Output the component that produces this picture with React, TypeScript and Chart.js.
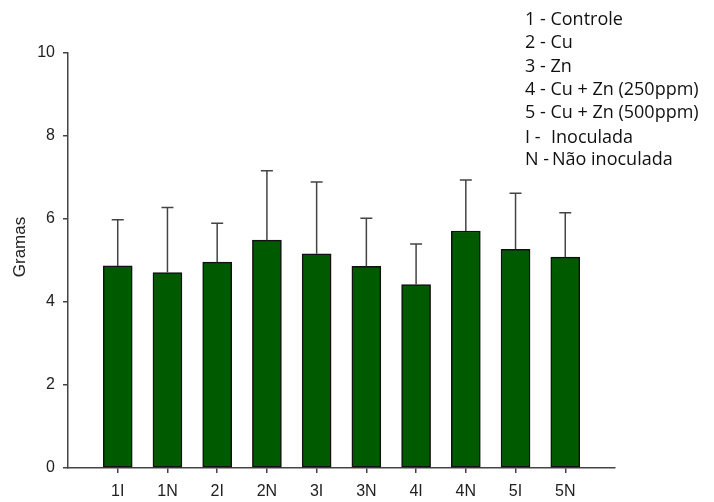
import React, { useEffect, useRef } from "react";
import { Chart, registerables } from "chart.js";

Chart.register(...registerables);

const categories = ["1I", "1N", "2I", "2N", "3I", "3N", "4I", "4N", "5I", "5N"];
const means = [4.87, 4.71, 4.96, 5.49, 5.16, 4.86, 4.42, 5.71, 5.27, 5.08];
const errors = [1.11, 1.57, 0.94, 1.67, 1.73, 1.16, 0.98, 1.23, 1.35, 1.07];
const yAxisTitle = "Gramas";
const legendLines: { parts: { text: string; dx: number }[] }[] = [
  { parts: [{ text: "1 - Controle", dx: 0 }] },
  { parts: [{ text: "2 - Cu", dx: 0 }] },
  { parts: [{ text: "3 - Zn", dx: 0 }] },
  { parts: [{ text: "4 - Cu + Zn (250ppm)", dx: 0 }] },
  { parts: [{ text: "5 - Cu + Zn (500ppm)", dx: 0 }] },
  { parts: [{ text: "I -", dx: 0 }, { text: "Inoculada", dx: 26 }] },
  { parts: [{ text: "N -", dx: 0 }, { text: "Não inoculada", dx: 27 }] },
];
const legendBaselines = [25, 48, 72, 95, 118, 143, 165];

const errorBarPlugin = {
  id: "errorBars",
  afterDatasetsDraw(chart: any) {
    const ctx = chart.ctx;
    const meta = chart.getDatasetMeta(0);
    const yScale = chart.scales.y;
    ctx.save();
    ctx.strokeStyle = "#444";
    ctx.lineWidth = 1.5;
    meta.data.forEach((bar: any, i: number) => {
      const x = bar.x;
      const top = bar.y;
      const yErr = yScale.getPixelForValue(means[i] + errors[i]);
      ctx.beginPath();
      ctx.moveTo(x, top);
      ctx.lineTo(x, yErr);
      ctx.moveTo(x - 6, yErr);
      ctx.lineTo(x + 6, yErr);
      ctx.stroke();
    });
    ctx.restore();
  },
};

const textPlugin = {
  id: "texts",
  afterDraw(chart: any) {
    const ctx = chart.ctx;
    ctx.save();
    ctx.fillStyle = "#111";
    ctx.font = '18px "Open Sans"';
    ctx.textAlign = "left";
    ctx.textBaseline = "alphabetic";
    legendLines.forEach((line, i) => {
      line.parts.forEach((p) => {
        ctx.fillText(p.text, 525 + p.dx, legendBaselines[i]);
      });
    });
    ctx.translate(20, 247);
    ctx.rotate(-Math.PI / 2);
    ctx.font = '17px "Liberation Sans", Arial, sans-serif';
    ctx.fillStyle = "#222";
    ctx.textAlign = "center";
    ctx.textBaseline = "middle";
    ctx.fillText(yAxisTitle, 0, 0);
    ctx.restore();
  },
};

export default function App() {
  const ref = useRef<HTMLCanvasElement>(null);
  useEffect(() => {
    if (!ref.current) return;
    const chart = new Chart(ref.current, {
      type: "bar",
      data: {
        datasets: [
          {
            data: categories.map((_, i) => ({ x: i + 1, y: means[i] })),
            backgroundColor: "#005a00",
            borderColor: "#111",
            borderWidth: 1.5,
            borderSkipped: false,
            barThickness: 29,
          },
        ],
      },
      options: {
        animation: false,
        responsive: false,
        layout: { padding: { left: 0, top: 53, right: 99, bottom: 0 } },
        plugins: { legend: { display: false }, tooltip: { enabled: false } },
        scales: {
          x: {
            type: "linear",
            min: 0,
            max: 11,
            offset: false,
            afterBuildTicks: (scale: any) => {
              scale.ticks = categories.map((_, i) => ({ value: i + 1 }));
            },
            afterFit: (scale: any) => {
              scale.height = 34;
            },
            grid: {
              display: true,
              offset: false,
              drawOnChartArea: false,
              drawTicks: true,
              tickLength: 5,
              color: "#444",
              lineWidth: 1.5,
            },
            border: { display: true, color: "#444", width: 1.5 },
            ticks: {
              autoSkip: false,
              maxRotation: 0,
              padding: 9,
              color: "#222",
              font: { family: '"Liberation Sans", Arial, sans-serif', size: 16 },
              callback: (value: any) => categories[Number(value) - 1] ?? "",
            },
          },
          y: {
            min: 0,
            max: 10,
            afterFit: (scale: any) => {
              scale.width = 68;
            },
            grid: {
              display: true,
              drawOnChartArea: false,
              drawTicks: true,
              tickLength: 5,
              color: "#444",
              lineWidth: 1.5,
            },
            border: { display: true, color: "#444", width: 1.5 },
            ticks: {
              stepSize: 2,
              padding: 8,
              color: "#222",
              font: { family: '"Liberation Sans", Arial, sans-serif', size: 16 },
            },
          },
        },
      },
      plugins: [errorBarPlugin, textPlugin],
    } as any);
    return () => chart.destroy();
  }, []);
  return (
    <div style={{ position: "fixed", left: 0, top: 0, width: 714, height: 502, background: "#fff" }}>
      <canvas ref={ref} width={714} height={502} style={{ display: "block" }} />
    </div>
  );
}
